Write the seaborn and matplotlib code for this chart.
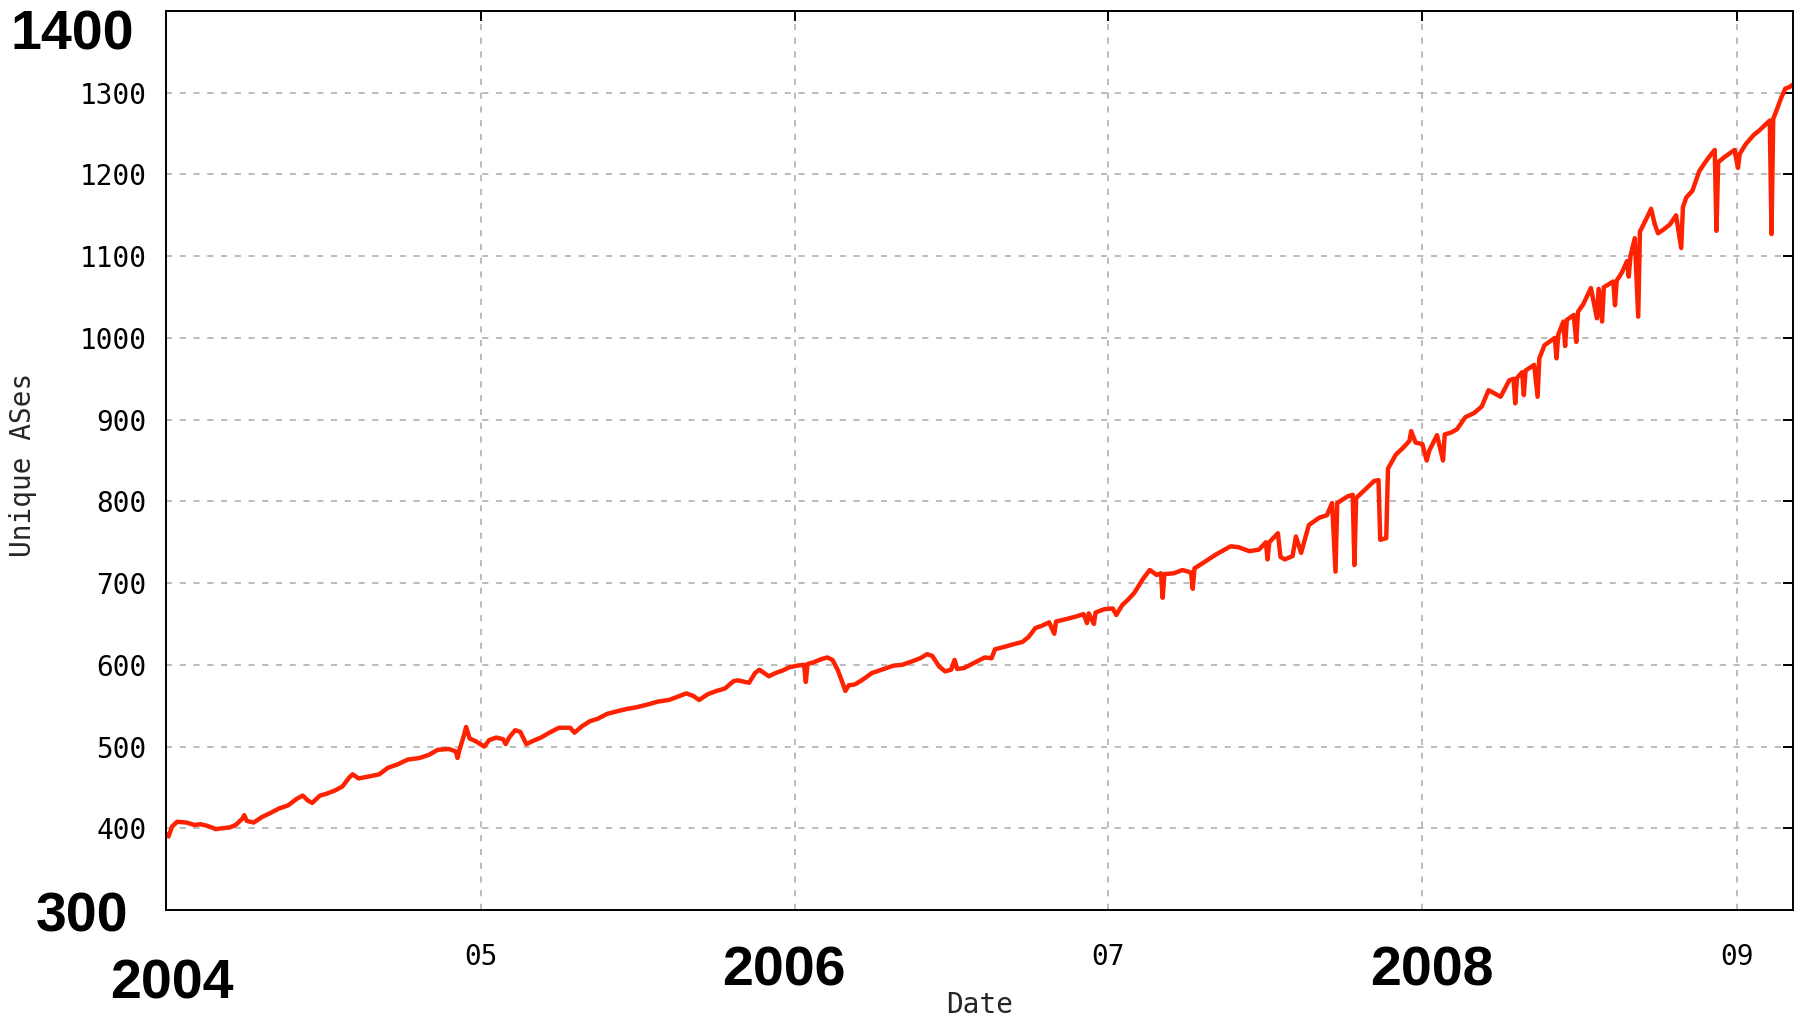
import pandas as pd
import matplotlib.pyplot as plt
import seaborn as sns

# daily count of unique ASes (dips kept as single days)
dates = [
    "2004-01-01", "2004-01-04", "2004-01-08", "2004-01-14", "2004-01-25", "2004-02-03",
    "2004-02-10", "2004-02-18", "2004-02-28", "2004-03-06", "2004-03-15", "2004-03-22",
    "2004-03-30", "2004-04-01", "2004-04-04", "2004-04-12", "2004-04-22", "2004-05-02",
    "2004-05-11", "2004-05-22", "2004-06-01", "2004-06-08", "2004-06-14", "2004-06-19",
    "2004-06-28", "2004-07-05", "2004-07-15", "2004-07-24", "2004-08-01", "2004-08-05",
    "2004-08-12", "2004-08-22", "2004-09-05", "2004-09-15", "2004-09-26", "2004-10-08",
    "2004-10-22", "2004-11-02", "2004-11-12", "2004-11-25", "2004-12-03", "2004-12-05",
    "2004-12-07", "2004-12-12", "2004-12-15", "2004-12-19", "2004-12-27", "2005-01-05",
    "2005-01-11", "2005-01-19", "2005-01-27", "2005-01-30", "2005-02-03", "2005-02-10",
    "2005-02-16", "2005-02-23", "2005-03-03", "2005-03-12", "2005-03-22", "2005-04-02",
    "2005-04-15", "2005-04-20", "2005-04-29", "2005-05-08", "2005-05-17", "2005-05-28",
    "2005-06-08", "2005-06-20", "2005-07-01", "2005-07-16", "2005-07-26", "2005-08-08",
    "2005-08-18", "2005-08-28", "2005-09-05", "2005-09-12", "2005-09-22", "2005-10-02",
    "2005-10-12", "2005-10-22", "2005-10-27", "2005-11-09", "2005-11-16", "2005-11-21",
    "2005-12-02", "2005-12-10", "2005-12-18", "2005-12-26", "2006-01-04", "2006-01-12",
    "2006-01-14", "2006-01-16", "2006-01-23", "2006-02-01", "2006-02-08", "2006-02-14",
    "2006-02-20", "2006-02-25", "2006-03-01", "2006-03-05", "2006-03-12", "2006-03-20",
    "2006-04-01", "2006-04-12", "2006-04-26", "2006-05-06", "2006-05-17", "2006-05-27",
    "2006-06-04", "2006-06-10", "2006-06-18", "2006-06-25", "2006-07-02", "2006-07-06",
    "2006-07-09", "2006-07-17", "2006-07-28", "2006-08-10", "2006-08-18", "2006-08-22",
    "2006-09-02", "2006-09-12", "2006-09-23", "2006-09-30", "2006-10-08", "2006-10-16",
    "2006-10-24", "2006-10-30", "2006-11-01", "2006-11-13", "2006-11-24", "2006-12-03",
    "2006-12-07", "2006-12-09", "2006-12-15", "2006-12-17", "2006-12-27", "2007-01-06",
    "2007-01-10", "2007-01-17", "2007-01-24", "2007-01-31", "2007-02-10", "2007-02-18",
    "2007-02-26", "2007-03-03", "2007-03-05", "2007-03-07", "2007-03-18", "2007-03-28",
    "2007-04-07", "2007-04-09", "2007-04-11", "2007-04-20", "2007-05-06", "2007-05-23",
    "2007-06-01", "2007-06-14", "2007-06-25", "2007-07-03", "2007-07-05", "2007-07-07",
    "2007-07-17", "2007-07-20", "2007-07-25", "2007-08-03", "2007-08-07", "2007-08-13",
    "2007-08-22", "2007-09-03", "2007-09-12", "2007-09-18", "2007-09-22", "2007-09-24",
    "2007-10-06", "2007-10-12", "2007-10-14", "2007-10-16", "2007-10-24", "2007-11-06",
    "2007-11-11", "2007-11-13", "2007-11-20", "2007-11-22", "2007-12-01", "2007-12-10",
    "2007-12-17", "2007-12-19", "2007-12-24", "2008-01-01", "2008-01-06", "2008-01-09",
    "2008-01-18", "2008-01-25", "2008-01-27", "2008-02-03", "2008-02-10", "2008-02-20",
    "2008-03-01", "2008-03-10", "2008-03-18", "2008-04-01", "2008-04-11", "2008-04-16",
    "2008-04-18", "2008-04-20", "2008-04-26", "2008-04-28", "2008-04-30", "2008-05-10",
    "2008-05-14", "2008-05-16", "2008-05-22", "2008-06-03", "2008-06-05", "2008-06-07",
    "2008-06-13", "2008-06-15", "2008-06-17", "2008-06-25", "2008-06-28", "2008-06-30",
    "2008-07-06", "2008-07-15", "2008-07-22", "2008-07-24", "2008-07-28", "2008-07-30",
    "2008-08-10", "2008-08-12", "2008-08-14", "2008-08-20", "2008-08-26", "2008-08-28",
    "2008-08-30", "2008-09-04", "2008-09-08", "2008-09-10", "2008-09-18", "2008-09-23",
    "2008-09-27", "2008-10-01", "2008-10-08", "2008-10-15", "2008-10-22", "2008-10-28",
    "2008-10-30", "2008-11-03", "2008-11-10", "2008-11-18", "2008-11-25", "2008-12-02",
    "2008-12-06", "2008-12-08", "2008-12-10", "2008-12-17", "2008-12-29", "2009-01-02",
    "2009-01-04", "2009-01-11", "2009-01-20", "2009-01-27", "2009-02-08", "2009-02-10",
    "2009-02-12", "2009-02-15", "2009-02-21", "2009-02-26", "2009-03-03", "2009-03-07",
]
unique_ases = [
    393, 390, 402, 408, 407, 404,
    405, 403, 399, 400, 401, 404,
    412, 416, 409, 407, 414, 419,
    424, 428, 436, 440, 434, 431,
    440, 442, 446, 451, 462, 466,
    461, 463, 466, 474, 478, 484,
    486, 490, 496, 497, 494, 486,
    495, 512, 524, 510, 506, 500,
    508, 511, 509, 503, 511, 520,
    518, 503, 507, 511, 517, 523,
    523, 517, 525, 531, 534, 540,
    543, 546, 548, 552, 555, 557,
    561, 565, 562, 557, 564, 568,
    571, 580, 581, 578, 590, 594,
    586, 590, 593, 597, 599, 600,
    579, 601, 603, 607, 609, 606,
    594, 580, 568, 575, 576, 581,
    590, 594, 599, 600, 604, 608,
    613, 611, 598, 592, 594, 606,
    595, 596, 602, 609, 608, 619,
    622, 625, 628, 634, 645, 648,
    652, 638, 653, 656, 659, 662,
    651, 663, 650, 664, 668, 669,
    661, 673, 680, 688, 705, 716,
    710, 712, 682, 711, 712, 716,
    713, 693, 718, 724, 735, 745,
    744, 739, 741, 750, 729, 750,
    761, 732, 729, 733, 757, 737,
    771, 780, 783, 798, 714, 798,
    806, 808, 722, 804, 812, 825,
    826, 753, 755, 840, 857, 866,
    874, 886, 872, 870, 850, 862,
    881, 850, 882, 884, 888, 903,
    908, 916, 936, 928, 948, 950,
    920, 951, 958, 930, 960, 967,
    928, 975, 991, 1000, 975, 1004,
    1020, 990, 1022, 1028, 995, 1032,
    1041, 1061, 1024, 1060, 1020, 1062,
    1069, 1040, 1070, 1080, 1094, 1075,
    1100, 1122, 1026, 1130, 1147, 1158,
    1140, 1128, 1133, 1139, 1150, 1110,
    1160, 1172, 1180, 1204, 1215, 1225,
    1230, 1131, 1215, 1221, 1230, 1208,
    1225, 1237, 1248, 1254, 1266, 1127,
    1268, 1276, 1293, 1305, 1307, 1310,
]

y_ticks = [400, 500, 600, 700, 800, 900, 1000, 1100, 1200, 1300]
tick_years = [2005, 2006, 2007, 2008, 2009]
short_labels = {2005: "05", 2007: "07", 2009: "09"}

sns.set_theme(style="white")
plt.rcParams["font.family"] = ["DejaVu Sans Mono"]

fig = plt.figure(figsize=(17.95, 10.21), dpi=100)
ax = fig.add_axes([166 / 1795, 1 - 910 / 1021, 1627 / 1795, 899 / 1021])

df = pd.DataFrame({"Date": pd.to_datetime(dates), "Unique ASes": unique_ases})
sns.lineplot(data=df, x="Date", y="Unique ASes", ax=ax, color="#ff2200",
             linewidth=3.2, estimator=None)

ax.set_xlim(pd.Timestamp("2004-01-01"), pd.Timestamp("2009-03-07"))
ax.set_ylim(300, 1400)
ax.set_yticks(y_ticks)
ax.set_yticklabels([str(v) for v in y_ticks])
ax.set_xticks([pd.Timestamp(f"{y}-01-01") for y in tick_years])
ax.set_xticklabels([short_labels.get(y, "") for y in tick_years])

ax.grid(True, color="#a8a8a8", linestyle=(0, (4, 5)), linewidth=1.1)
for s in ax.spines.values():
    s.set_visible(True)
    s.set_color("black")
    s.set_linewidth(1.4)
ax.tick_params(direction="in", length=7, width=1.4, top=True, right=True,
               labelsize=20, colors="black")
ax.tick_params(axis="y", pad=14)
ax.tick_params(axis="x", pad=24)

ax.set_xlabel("Date", fontsize=20)
ax.set_ylabel("Unique ASes", fontsize=20)
ax.xaxis.set_label_coords(0.5, -0.090)
ax.yaxis.set_label_coords(-0.079, 0.495)

# big bold overlay labels
big = dict(family="Liberation Sans", weight="bold", ha="center", va="baseline", color="black")
fig.text(72 / 1795, 1 - 50 / 1021, "1400", fontsize=40, **big)
fig.text(82 / 1795, 1 - 931 / 1021, "300", fontsize=40, **big)
fig.text(172 / 1795, 1 - 998 / 1021, "2004", fontsize=40, **big)
fig.text(784 / 1795, 1 - 985 / 1021, "2006", fontsize=40, **big)
fig.text(1432 / 1795, 1 - 985 / 1021, "2008", fontsize=40, **big)

fig.savefig("out.png", dpi=100)
